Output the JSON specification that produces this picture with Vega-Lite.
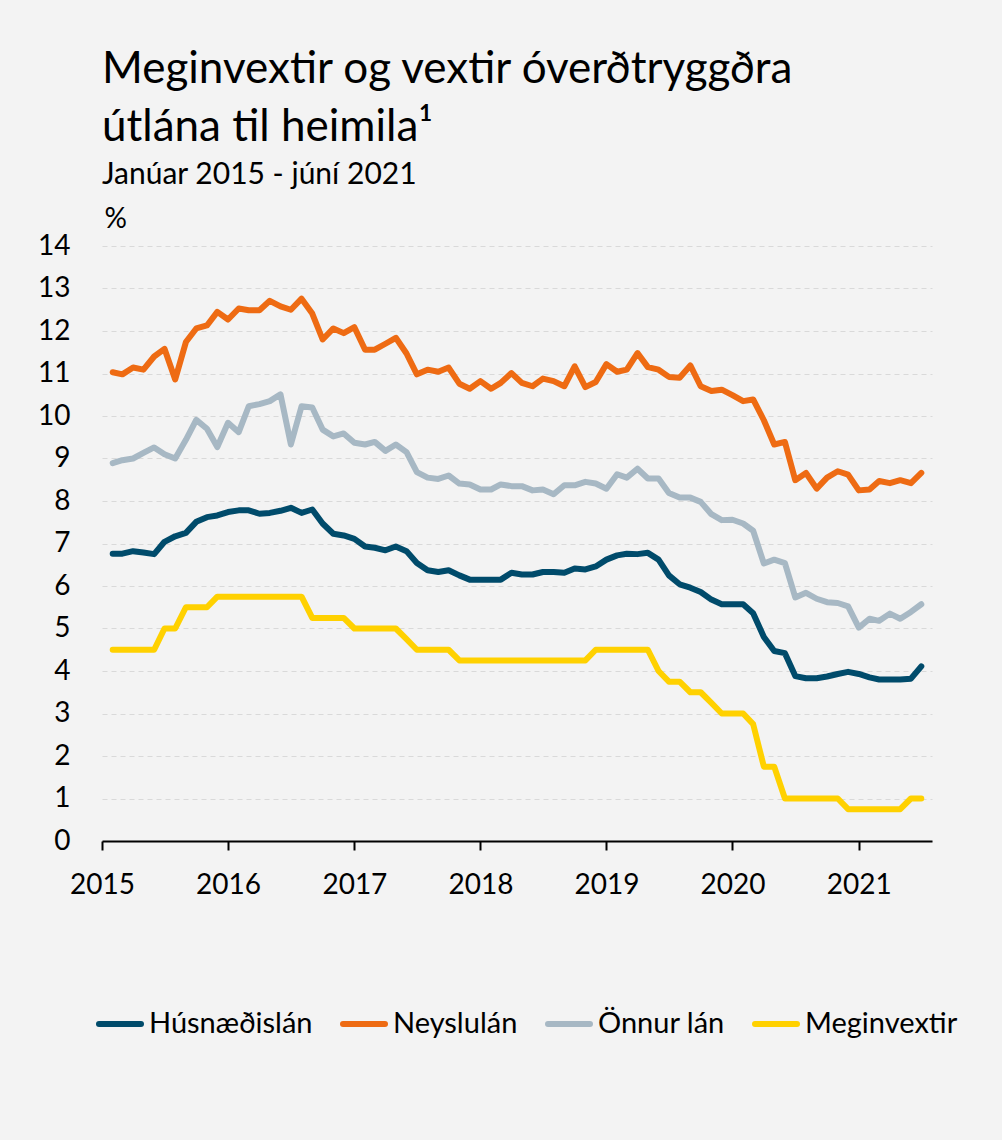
{
  "$schema": "https://vega.github.io/schema/vega-lite/v6.json",
  "width": 830,
  "height": 595,
  "autosize": {"type": "none"},
  "padding": {"left": 102, "top": 246, "right": 70, "bottom": 299},
  "background": "#f3f3f3",
  "config": {"font": "Lato", "view": {"stroke": null}},
  "title": {
    "text": ["Meginvextir og vextir óverðtryggðra", "útlána til heimila¹"],
    "subtitle": "Janúar 2015 - júní 2021",
    "anchor": "start",
    "frame": "group",
    "font": "Lato",
    "fontSize": 44,
    "fontWeight": "normal",
    "lineHeight": 58,
    "color": "#000000",
    "subtitleFont": "Lato",
    "subtitleFontSize": 30,
    "subtitleColor": "#000000",
    "subtitlePadding": 10,
    "offset": 15
  },
  "data": {
    "values": [
      {"month": "2015-01", "Húsnæðislán": 6.76, "Neyslulán": 11.03, "Önnur lán": 8.89, "Meginvextir": 4.5},
      {"month": "2015-02", "Húsnæðislán": 6.76, "Neyslulán": 10.98, "Önnur lán": 8.96, "Meginvextir": 4.5},
      {"month": "2015-03", "Húsnæðislán": 6.82, "Neyslulán": 11.14, "Önnur lán": 9.00, "Meginvextir": 4.5},
      {"month": "2015-04", "Húsnæðislán": 6.79, "Neyslulán": 11.09, "Önnur lán": 9.13, "Meginvextir": 4.5},
      {"month": "2015-05", "Húsnæðislán": 6.75, "Neyslulán": 11.40, "Önnur lán": 9.26, "Meginvextir": 4.5},
      {"month": "2015-06", "Húsnæðislán": 7.04, "Neyslulán": 11.58, "Önnur lán": 9.10, "Meginvextir": 5.0},
      {"month": "2015-07", "Húsnæðislán": 7.17, "Neyslulán": 10.86, "Önnur lán": 9.00, "Meginvextir": 5.0},
      {"month": "2015-08", "Húsnæðislán": 7.25, "Neyslulán": 11.74, "Önnur lán": 9.44, "Meginvextir": 5.5},
      {"month": "2015-09", "Húsnæðislán": 7.51, "Neyslulán": 12.06, "Önnur lán": 9.91, "Meginvextir": 5.5},
      {"month": "2015-10", "Húsnæðislán": 7.62, "Neyslulán": 12.13, "Önnur lán": 9.70, "Meginvextir": 5.5},
      {"month": "2015-11", "Húsnæðislán": 7.66, "Neyslulán": 12.45, "Önnur lán": 9.27, "Meginvextir": 5.75},
      {"month": "2015-12", "Húsnæðislán": 7.74, "Neyslulán": 12.27, "Önnur lán": 9.84, "Meginvextir": 5.75},
      {"month": "2016-01", "Húsnæðislán": 7.78, "Neyslulán": 12.53, "Önnur lán": 9.62, "Meginvextir": 5.75},
      {"month": "2016-02", "Húsnæðislán": 7.78, "Neyslulán": 12.49, "Önnur lán": 10.23, "Meginvextir": 5.75},
      {"month": "2016-03", "Húsnæðislán": 7.70, "Neyslulán": 12.49, "Önnur lán": 10.28, "Meginvextir": 5.75},
      {"month": "2016-04", "Húsnæðislán": 7.72, "Neyslulán": 12.71, "Önnur lán": 10.35, "Meginvextir": 5.75},
      {"month": "2016-05", "Húsnæðislán": 7.77, "Neyslulán": 12.58, "Önnur lán": 10.51, "Meginvextir": 5.75},
      {"month": "2016-06", "Húsnæðislán": 7.84, "Neyslulán": 12.50, "Önnur lán": 9.33, "Meginvextir": 5.75},
      {"month": "2016-07", "Húsnæðislán": 7.72, "Neyslulán": 12.76, "Önnur lán": 10.23, "Meginvextir": 5.75},
      {"month": "2016-08", "Húsnæðislán": 7.80, "Neyslulán": 12.41, "Önnur lán": 10.20, "Meginvextir": 5.25},
      {"month": "2016-09", "Húsnæðislán": 7.47, "Neyslulán": 11.80, "Önnur lán": 9.68, "Meginvextir": 5.25},
      {"month": "2016-10", "Húsnæðislán": 7.23, "Neyslulán": 12.06, "Önnur lán": 9.52, "Meginvextir": 5.25},
      {"month": "2016-11", "Húsnæðislán": 7.19, "Neyslulán": 11.95, "Önnur lán": 9.59, "Meginvextir": 5.25},
      {"month": "2016-12", "Húsnæðislán": 7.11, "Neyslulán": 12.09, "Önnur lán": 9.37, "Meginvextir": 5.0},
      {"month": "2017-01", "Húsnæðislán": 6.93, "Neyslulán": 11.56, "Önnur lán": 9.33, "Meginvextir": 5.0},
      {"month": "2017-02", "Húsnæðislán": 6.90, "Neyslulán": 11.56, "Önnur lán": 9.39, "Meginvextir": 5.0},
      {"month": "2017-03", "Húsnæðislán": 6.84, "Neyslulán": 11.70, "Önnur lán": 9.18, "Meginvextir": 5.0},
      {"month": "2017-04", "Húsnæðislán": 6.93, "Neyslulán": 11.84, "Önnur lán": 9.33, "Meginvextir": 5.0},
      {"month": "2017-05", "Húsnæðislán": 6.82, "Neyslulán": 11.47, "Önnur lán": 9.15, "Meginvextir": 4.75},
      {"month": "2017-06", "Húsnæðislán": 6.54, "Neyslulán": 10.98, "Önnur lán": 8.68, "Meginvextir": 4.5},
      {"month": "2017-07", "Húsnæðislán": 6.37, "Neyslulán": 11.09, "Önnur lán": 8.55, "Meginvextir": 4.5},
      {"month": "2017-08", "Húsnæðislán": 6.33, "Neyslulán": 11.04, "Önnur lán": 8.52, "Meginvextir": 4.5},
      {"month": "2017-09", "Húsnæðislán": 6.37, "Neyslulán": 11.14, "Önnur lán": 8.60, "Meginvextir": 4.5},
      {"month": "2017-10", "Húsnæðislán": 6.25, "Neyslulán": 10.76, "Önnur lán": 8.41, "Meginvextir": 4.25},
      {"month": "2017-11", "Húsnæðislán": 6.15, "Neyslulán": 10.64, "Önnur lán": 8.39, "Meginvextir": 4.25},
      {"month": "2017-12", "Húsnæðislán": 6.15, "Neyslulán": 10.82, "Önnur lán": 8.27, "Meginvextir": 4.25},
      {"month": "2018-01", "Húsnæðislán": 6.15, "Neyslulán": 10.64, "Önnur lán": 8.27, "Meginvextir": 4.25},
      {"month": "2018-02", "Húsnæðislán": 6.15, "Neyslulán": 10.78, "Önnur lán": 8.39, "Meginvextir": 4.25},
      {"month": "2018-03", "Húsnæðislán": 6.31, "Neyslulán": 11.01, "Önnur lán": 8.35, "Meginvextir": 4.25},
      {"month": "2018-04", "Húsnæðislán": 6.27, "Neyslulán": 10.78, "Önnur lán": 8.35, "Meginvextir": 4.25},
      {"month": "2018-05", "Húsnæðislán": 6.27, "Neyslulán": 10.70, "Önnur lán": 8.25, "Meginvextir": 4.25},
      {"month": "2018-06", "Húsnæðislán": 6.33, "Neyslulán": 10.88, "Önnur lán": 8.27, "Meginvextir": 4.25},
      {"month": "2018-07", "Húsnæðislán": 6.33, "Neyslulán": 10.82, "Önnur lán": 8.16, "Meginvextir": 4.25},
      {"month": "2018-08", "Húsnæðislán": 6.31, "Neyslulán": 10.70, "Önnur lán": 8.37, "Meginvextir": 4.25},
      {"month": "2018-09", "Húsnæðislán": 6.41, "Neyslulán": 11.17, "Önnur lán": 8.37, "Meginvextir": 4.25},
      {"month": "2018-10", "Húsnæðislán": 6.39, "Neyslulán": 10.68, "Önnur lán": 8.45, "Meginvextir": 4.25},
      {"month": "2018-11", "Húsnæðislán": 6.46, "Neyslulán": 10.80, "Önnur lán": 8.41, "Meginvextir": 4.5},
      {"month": "2018-12", "Húsnæðislán": 6.62, "Neyslulán": 11.22, "Önnur lán": 8.29, "Meginvextir": 4.5},
      {"month": "2019-01", "Húsnæðislán": 6.72, "Neyslulán": 11.04, "Önnur lán": 8.63, "Meginvextir": 4.5},
      {"month": "2019-02", "Húsnæðislán": 6.76, "Neyslulán": 11.09, "Önnur lán": 8.55, "Meginvextir": 4.5},
      {"month": "2019-03", "Húsnæðislán": 6.75, "Neyslulán": 11.48, "Önnur lán": 8.76, "Meginvextir": 4.5},
      {"month": "2019-04", "Húsnæðislán": 6.78, "Neyslulán": 11.15, "Önnur lán": 8.53, "Meginvextir": 4.5},
      {"month": "2019-05", "Húsnæðislán": 6.62, "Neyslulán": 11.09, "Önnur lán": 8.53, "Meginvextir": 4.0},
      {"month": "2019-06", "Húsnæðislán": 6.25, "Neyslulán": 10.92, "Önnur lán": 8.19, "Meginvextir": 3.75},
      {"month": "2019-07", "Húsnæðislán": 6.04, "Neyslulán": 10.90, "Önnur lán": 8.08, "Meginvextir": 3.75},
      {"month": "2019-08", "Húsnæðislán": 5.96, "Neyslulán": 11.19, "Önnur lán": 8.08, "Meginvextir": 3.5},
      {"month": "2019-09", "Húsnæðislán": 5.86, "Neyslulán": 10.70, "Önnur lán": 7.98, "Meginvextir": 3.5},
      {"month": "2019-10", "Húsnæðislán": 5.68, "Neyslulán": 10.59, "Önnur lán": 7.69, "Meginvextir": 3.25},
      {"month": "2019-11", "Húsnæðislán": 5.57, "Neyslulán": 10.62, "Önnur lán": 7.55, "Meginvextir": 3.0},
      {"month": "2019-12", "Húsnæðislán": 5.57, "Neyslulán": 10.49, "Önnur lán": 7.56, "Meginvextir": 3.0},
      {"month": "2020-01", "Húsnæðislán": 5.57, "Neyslulán": 10.35, "Önnur lán": 7.47, "Meginvextir": 3.0},
      {"month": "2020-02", "Húsnæðislán": 5.36, "Neyslulán": 10.39, "Önnur lán": 7.30, "Meginvextir": 2.75},
      {"month": "2020-03", "Húsnæðislán": 4.80, "Neyslulán": 9.90, "Önnur lán": 6.53, "Meginvextir": 1.75},
      {"month": "2020-04", "Húsnæðislán": 4.47, "Neyslulán": 9.33, "Önnur lán": 6.62, "Meginvextir": 1.75},
      {"month": "2020-05", "Húsnæðislán": 4.42, "Neyslulán": 9.39, "Önnur lán": 6.54, "Meginvextir": 1.0},
      {"month": "2020-06", "Húsnæðislán": 3.88, "Neyslulán": 8.49, "Önnur lán": 5.73, "Meginvextir": 1.0},
      {"month": "2020-07", "Húsnæðislán": 3.83, "Neyslulán": 8.66, "Önnur lán": 5.84, "Meginvextir": 1.0},
      {"month": "2020-08", "Húsnæðislán": 3.83, "Neyslulán": 8.29, "Önnur lán": 5.70, "Meginvextir": 1.0},
      {"month": "2020-09", "Húsnæðislán": 3.87, "Neyslulán": 8.55, "Önnur lán": 5.62, "Meginvextir": 1.0},
      {"month": "2020-10", "Húsnæðislán": 3.93, "Neyslulán": 8.70, "Önnur lán": 5.60, "Meginvextir": 1.0},
      {"month": "2020-11", "Húsnæðislán": 3.98, "Neyslulán": 8.62, "Önnur lán": 5.52, "Meginvextir": 0.75},
      {"month": "2020-12", "Húsnæðislán": 3.93, "Neyslulán": 8.25, "Önnur lán": 5.02, "Meginvextir": 0.75},
      {"month": "2021-01", "Húsnæðislán": 3.85, "Neyslulán": 8.27, "Önnur lán": 5.23, "Meginvextir": 0.75},
      {"month": "2021-02", "Húsnæðislán": 3.80, "Neyslulán": 8.47, "Önnur lán": 5.18, "Meginvextir": 0.75},
      {"month": "2021-03", "Húsnæðislán": 3.80, "Neyslulán": 8.42, "Önnur lán": 5.35, "Meginvextir": 0.75},
      {"month": "2021-04", "Húsnæðislán": 3.80, "Neyslulán": 8.49, "Önnur lán": 5.23, "Meginvextir": 0.75},
      {"month": "2021-05", "Húsnæðislán": 3.82, "Neyslulán": 8.42, "Önnur lán": 5.39, "Meginvextir": 1.0},
      {"month": "2021-06", "Húsnæðislán": 4.11, "Neyslulán": 8.66, "Önnur lán": 5.57, "Meginvextir": 1.0}
    ]
  },
  "transform": [
    {"fold": ["Húsnæðislán", "Neyslulán", "Önnur lán", "Meginvextir"], "as": ["series", "value"]}
  ],
  "mark": {"type": "line", "strokeWidth": 6, "strokeCap": "round", "strokeJoin": "round"},
  "encoding": {
    "x": {
      "field": "month",
      "timeUnit": "utcyearmonth",
      "type": "temporal",
      "bandPosition": 1,
      "scale": {"domain": [{"year": 2015, "month": 1, "date": 1, "utc": true}, {"year": 2021, "month": 8, "date": 1, "utc": true}]},
      "axis": {
        "title": null,
        "labelExpr": "utcFormat(datum.value, '%Y')",
        "values": [
          {"year": 2015, "month": 1, "date": 1, "utc": true},
          {"year": 2016, "month": 1, "date": 1, "utc": true},
          {"year": 2017, "month": 1, "date": 1, "utc": true},
          {"year": 2018, "month": 1, "date": 1, "utc": true},
          {"year": 2019, "month": 1, "date": 1, "utc": true},
          {"year": 2020, "month": 1, "date": 1, "utc": true},
          {"year": 2021, "month": 1, "date": 1, "utc": true}
        ],
        "grid": false,
        "domain": true,
        "domainColor": "#000000",
        "domainWidth": 2,
        "ticks": true,
        "tickColor": "#000000",
        "tickWidth": 2,
        "tickSize": 9,
        "labelFont": "Lato",
        "labelFontSize": 28,
        "labelColor": "#000000",
        "labelPadding": 21,
        "labelFlush": false,
        "labelOverlap": false
      }
    },
    "y": {
      "field": "value",
      "type": "quantitative",
      "scale": {"domain": [0, 14]},
      "axis": {
        "title": "%",
        "titleAngle": 0,
        "titleAlign": "left",
        "titleBaseline": "alphabetic",
        "titleX": 2,
        "titleY": -19,
        "titleFont": "Lato",
        "titleFontSize": 28,
        "titleFontWeight": "normal",
        "titleColor": "#000000",
        "values": [0, 1, 2, 3, 4, 5, 6, 7, 8, 9, 10, 11, 12, 13, 14],
        "domain": false,
        "ticks": false,
        "labelFont": "Lato",
        "labelFontSize": 28,
        "labelColor": "#000000",
        "labelPadding": 32,
        "grid": true,
        "gridColor": "#d9d9d9",
        "gridDash": [5, 4],
        "gridWidth": 1
      }
    },
    "color": {
      "field": "series",
      "type": "nominal",
      "scale": {
        "domain": ["Húsnæðislán", "Neyslulán", "Önnur lán", "Meginvextir"],
        "range": ["#004b6b", "#ee6b13", "#a7b8c4", "#ffd100"]
      },
      "legend": {
        "orient": "none",
        "legendX": -6,
        "legendY": 754,
        "direction": "horizontal",
        "title": null,
        "symbolType": "stroke",
        "symbolSize": 1764,
        "symbolStrokeWidth": 6,
        "labelFont": "Lato",
        "labelFontSize": 29,
        "labelLimit": 400,
        "labelColor": "#000000",
        "labelOffset": 5,
        "columnPadding": 18,
        "encode": {"symbols": {"update": {"strokeCap": {"value": "round"}}}}
      }
    }
  }
}
